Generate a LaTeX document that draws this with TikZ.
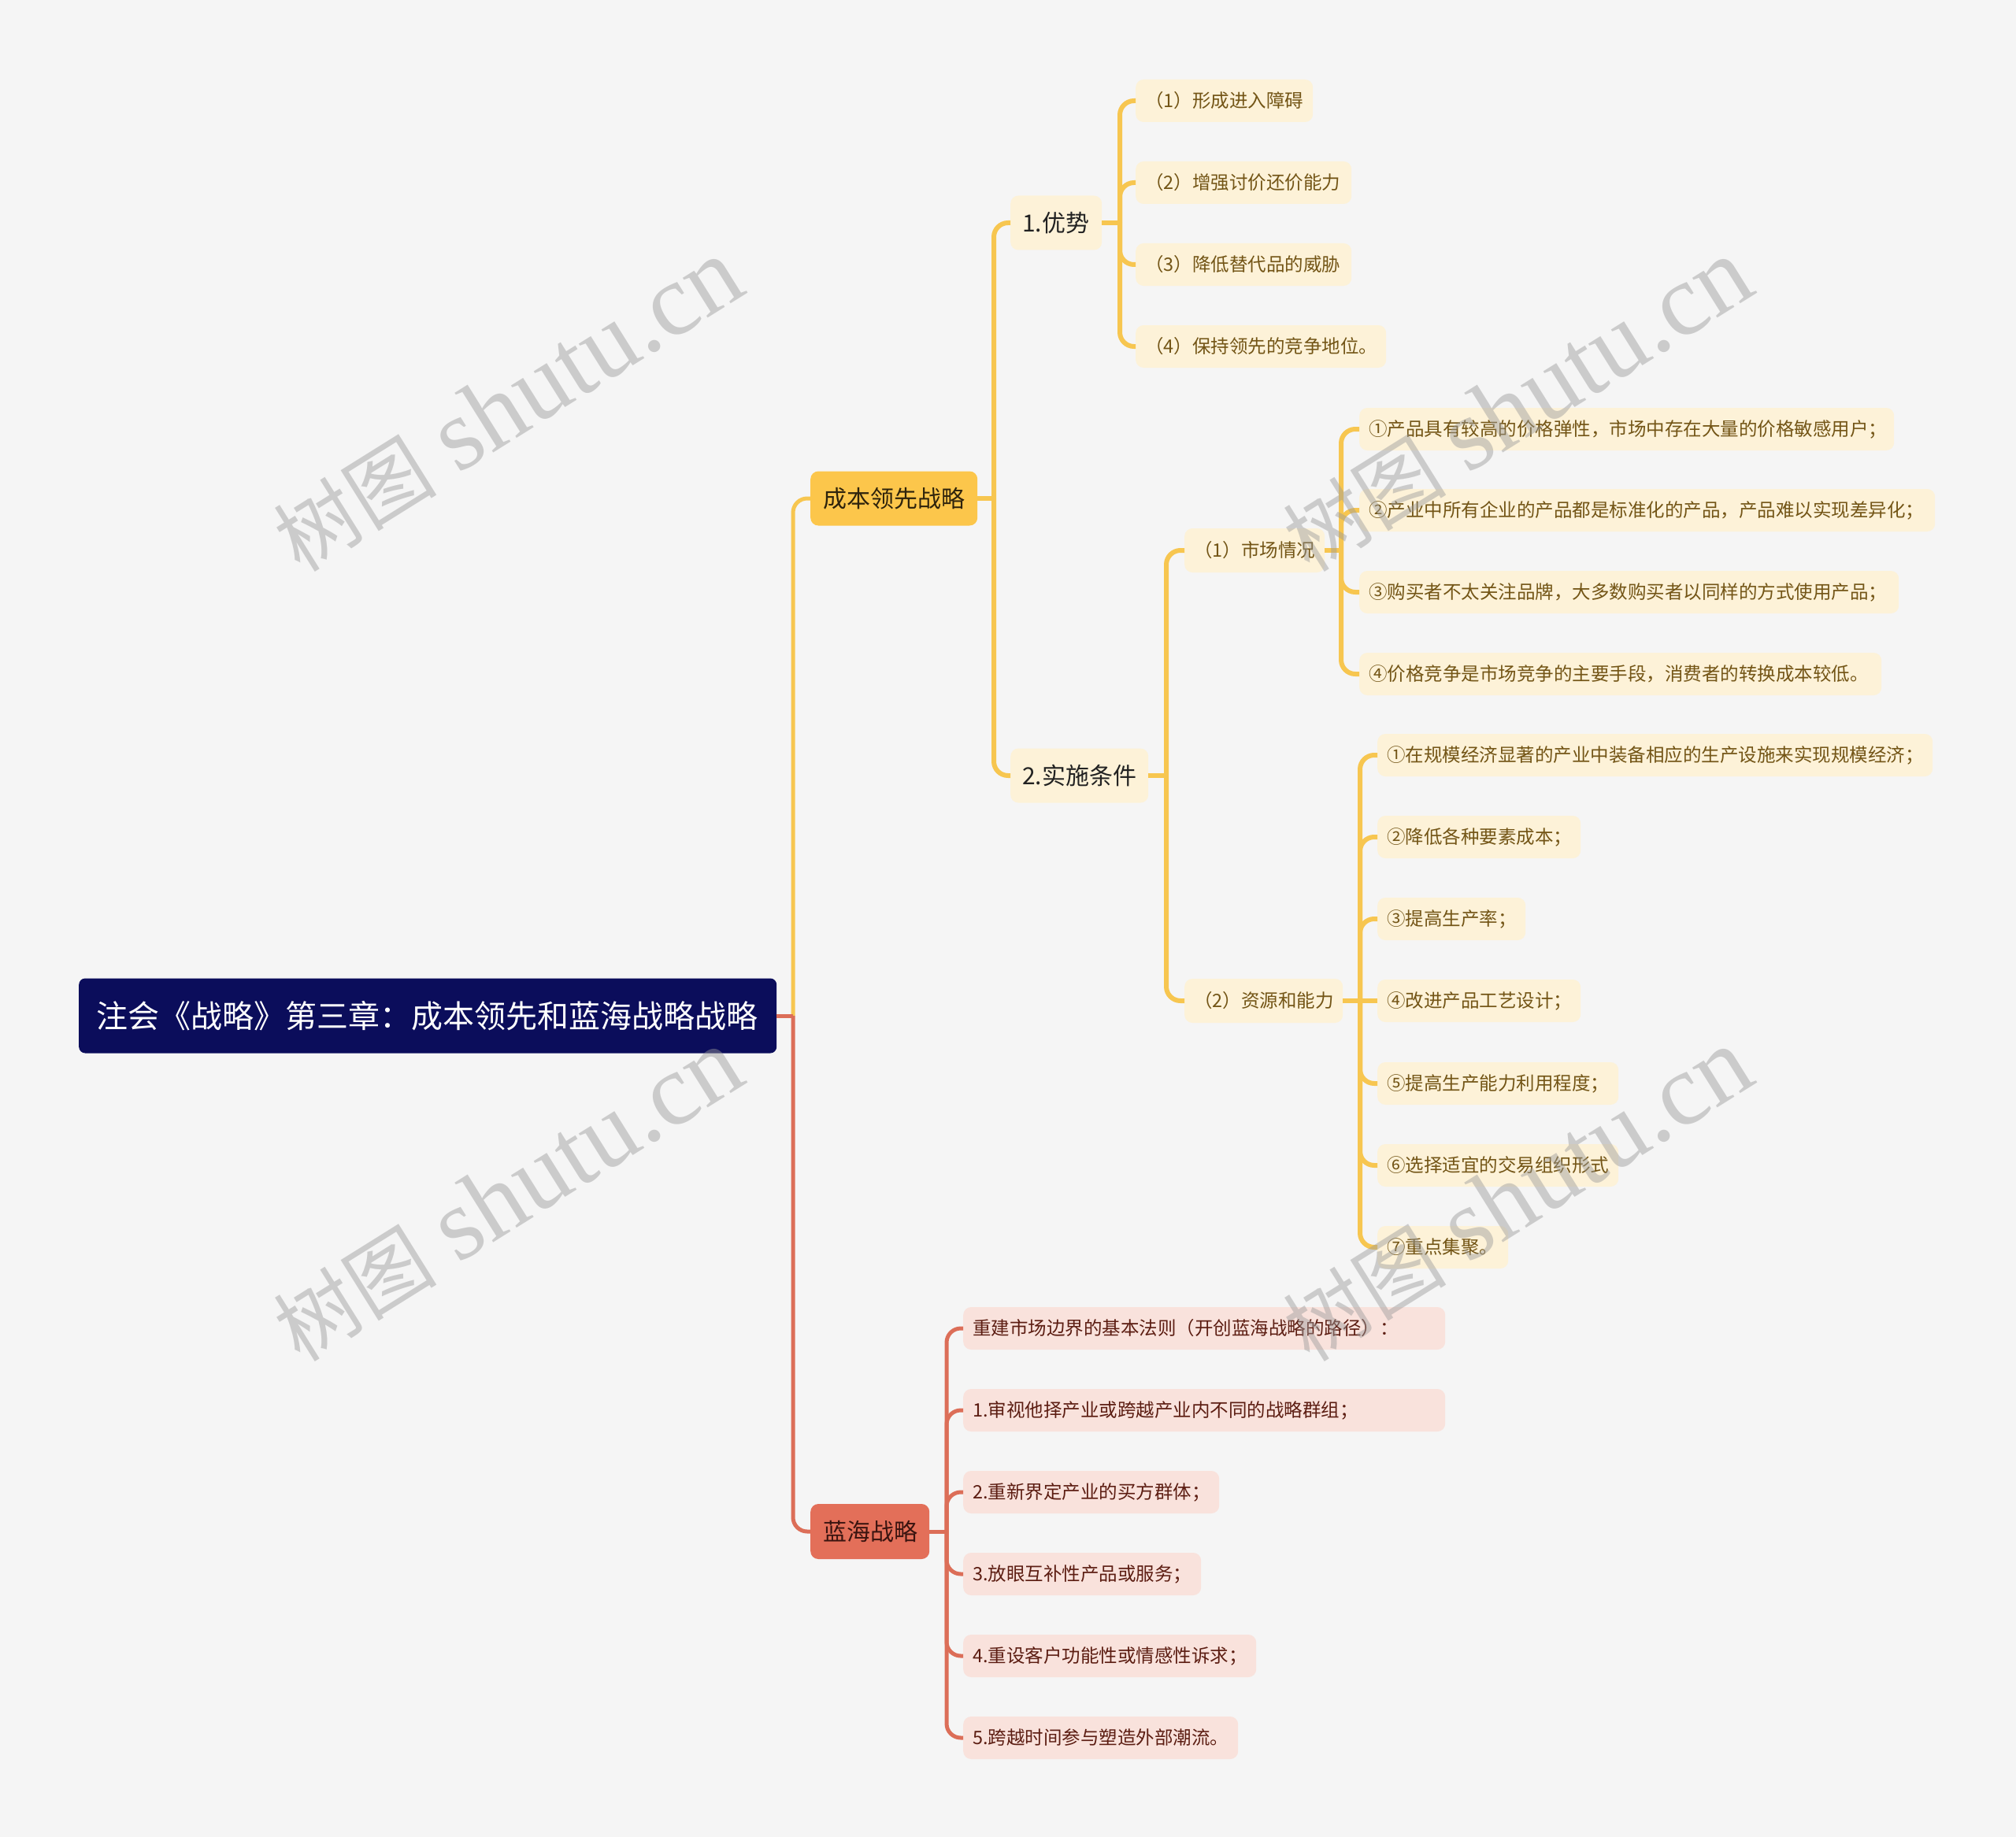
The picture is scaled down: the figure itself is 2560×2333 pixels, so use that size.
\documentclass[tikz,border=0pt]{standalone}
\usepackage{fontspec}
\setmainfont{Noto Sans CJK SC}
\newfontfamily\wmlatin{Liberation Serif}
\definecolor{bgc}{HTML}{F5F5F5}
\definecolor{rootc}{HTML}{0B0D5B}
\definecolor{mainy}{HTML}{FCC64B}
\definecolor{mainyt}{HTML}{2E230C}
\definecolor{mainr}{HTML}{E36F59}
\definecolor{mainrt}{HTML}{3A1410}
\definecolor{creamc}{HTML}{FDF2D8}
\definecolor{darkt}{HTML}{222222}
\definecolor{leafyt}{HTML}{735516}
\definecolor{pinkc}{HTML}{F9E2DC}
\definecolor{leafrt}{HTML}{5C1D12}
\definecolor{liney}{HTML}{F7C650}
\definecolor{liner}{HTML}{DC6E58}
\definecolor{wmc}{HTML}{9A9A9A}
\newcommand\bx[3]{\makebox[#1pt][l]{\hspace*{#2pt}#3}}
\begin{document}
\begin{tikzpicture}[x=1pt,y=-1pt,
  base/.style={anchor=west, inner xsep=0pt, inner ysep=0pt, rounded corners=10pt},
  rootnode/.style={base, fill=rootc, text=white, minimum height=95pt, rounded corners=8pt, font=\fontsize{40}{48}\selectfont},
  mainY/.style={base, fill=mainy, text=mainyt, minimum height=69pt, font=\fontsize{30}{36}\selectfont},
  mainR/.style={base, fill=mainr, text=mainrt, minimum height=70pt, font=\fontsize{30}{36}\selectfont},
  subY/.style={base, fill=creamc, text=darkt, minimum height=69pt, font=\fontsize{30}{36}\selectfont},
  leafY/.style={base, fill=creamc, text=leafyt, minimum height=54pt, font=\fontsize{23.5}{28}\selectfont},
  leafR/.style={base, fill=pinkc, text=leafrt, minimum height=54pt, font=\fontsize{23.5}{28}\selectfont},
  lnY/.style={draw=liney, line width=6pt, rounded corners=18pt},
  lnYr/.style={draw=liney, line width=5pt, rounded corners=18pt},
  lnR/.style={draw=liner, line width=5pt, rounded corners=18pt},
  wm/.style={text=wmc, text opacity=0.45, rotate=32, inner sep=0pt}
]
\useasboundingbox (0,0) rectangle (2560,2333);
\fill[bgc] (0,0) rectangle (2560,2333);

% nodes
\node[rootnode] (root) at (100,1290) {\bx{886}{22}{注会《战略》第三章：成本领先和蓝海战略战略}};
\node[mainY] (cost) at (1029,633) {\bx{212}{16}{成本领先战略}};
\node[mainR] (blue) at (1029,1945) {\bx{151}{16}{蓝海战略}};

\node[subY] (adv) at (1283,283) {\bx{116}{15}{1.优势}};
\node[subY] (cond) at (1283,985) {\bx{175}{15}{2.实施条件}};

\node[leafY] (a1) at (1442,128) {\bx{225}{12}{（1）形成进入障碍}};
\node[leafY] (a2) at (1442,232) {\bx{274}{12}{（2）增强讨价还价能力}};
\node[leafY] (a3) at (1442,336) {\bx{274}{12}{（3）降低替代品的威胁}};
\node[leafY] (a4) at (1442,440) {\bx{318}{12}{（4）保持领先的竞争地位。}};

\node[leafY, minimum height=56pt] (mkt) at (1504,699) {\bx{178}{12}{（1）市场情况}};
\node[leafY, minimum height=56pt] (res) at (1504,1271) {\bx{201}{12}{（2）资源和能力}};

\node[leafY] (m1) at (1726,545) {\bx{679}{12}{①产品具有较高的价格弹性，市场中存在大量的价格敏感用户；}};
\node[leafY] (m2) at (1726,648) {\bx{731}{12}{②产业中所有企业的产品都是标准化的产品，产品难以实现差异化；}};
\node[leafY] (m3) at (1726,752) {\bx{685}{12}{③购买者不太关注品牌，大多数购买者以同样的方式使用产品；}};
\node[leafY] (m4) at (1726,856) {\bx{663}{12}{④价格竞争是市场竞争的主要手段，消费者的转换成本较低。}};

\node[leafY] (r1) at (1749,959) {\bx{705}{12}{①在规模经济显著的产业中装备相应的生产设施来实现规模经济；}};
\node[leafY] (r2) at (1749,1063) {\bx{258}{12}{②降低各种要素成本；}};
\node[leafY] (r3) at (1749,1167) {\bx{188}{12}{③提高生产率；}};
\node[leafY] (r4) at (1749,1271) {\bx{258}{12}{④改进产品工艺设计；}};
\node[leafY] (r5) at (1749,1376) {\bx{306}{12}{⑤提高生产能力利用程度；}};
\node[leafY] (r6) at (1749,1480) {\bx{306}{12}{⑥选择适宜的交易组织形式}};
\node[leafY] (r7) at (1749,1584) {\bx{166}{12}{⑦重点集聚。}};

\node[leafR] (b0) at (1223,1687) {\bx{612}{12}{重建市场边界的基本法则（开创蓝海战略的路径）：}};
\node[leafR] (b1) at (1223,1791) {\bx{612}{12}{1.审视他择产业或跨越产业内不同的战略群组；}};
\node[leafR] (b2) at (1223,1895) {\bx{325}{12}{2.重新界定产业的买方群体；}};
\node[leafR] (b3) at (1223,1999) {\bx{302}{12}{3.放眼互补性产品或服务；}};
\node[leafR] (b4) at (1223,2103) {\bx{372}{12}{4.重设客户功能性或情感性诉求；}};
\node[leafR] (b5) at (1223,2207) {\bx{349}{12}{5.跨越时间参与塑造外部潮流。}};

% junctions
\coordinate (jroot) at (1007,1290);
\coordinate (jcost) at (1262,633);
\coordinate (jadv) at (1422,283);
\coordinate (jcond) at (1481,985);
\coordinate (jmkt) at (1703,699);
\coordinate (jres) at (1727,1271);
\coordinate (jblue) at (1202,1945);

% connectors: root
\draw[lnYr] (jroot) |- (cost.west);
\draw[lnR] (jroot) |- (blue.west);
\draw[lnR] (root.east) -- (jroot);

% cost branch
\draw[lnY] (cost.east) -- (jcost);
\draw[lnY] (jcost) |- (adv.west);
\draw[lnY] (jcost) |- (cond.west);

\draw[lnY] (adv.east) -- (jadv);
\foreach \c in {a1,a2,a3,a4} \draw[lnY] (jadv) |- (\c.west);

\draw[lnY] (cond.east) -- (jcond);
\draw[lnY] (jcond) |- (mkt.west);
\draw[lnY] (jcond) |- (res.west);

\draw[lnY] (mkt.east) -- (jmkt);
\foreach \c in {m1,m2,m3,m4} \draw[lnY] (jmkt) |- (\c.west);

\draw[lnY] (res.east) -- (jres);
\foreach \c in {r1,r2,r3,r5,r6,r7} \draw[lnY] (jres) |- (\c.west);
\draw[lnY] (jres) -- (r4.west);

% blue ocean branch
\draw[lnR] (blue.east) -- (jblue);
\foreach \c in {b0,b1,b2,b3,b4,b5} \draw[lnR] (jblue) |- (\c.west);

% watermarks
\foreach \p [count=\i] in {(645,515),(1927,515),(645,1518),(1927,1518)}
  \node[wm] (wm\i) at \p {\fontsize{104}{110}\selectfont 树图\kern 28pt{\wmlatin\fontsize{130}{134}\selectfont shutu.cn}};
\end{tikzpicture}
\end{document}
